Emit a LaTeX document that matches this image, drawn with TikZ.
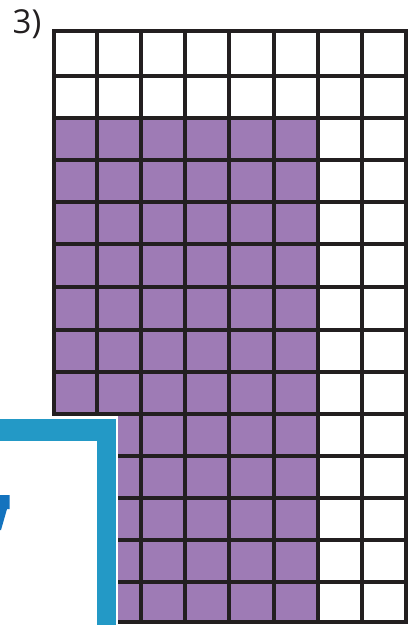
\documentclass[tikz,border=0pt]{standalone}
\usepackage{fontspec}
\setmainfont{Open Sans}
\definecolor{gridink}{HTML}{231F20}
\definecolor{purplefill}{HTML}{9E7BB5}
\definecolor{framecol}{HTML}{2399C6}
\definecolor{glyphcol}{HTML}{1473BE}
\tikzset{gridline/.style={draw=gridink,line width=3.2pt,line cap=rect}}
\begin{document}
\begin{tikzpicture}[x=1pt,y=-1pt]
\useasboundingbox (0,0) rectangle (408,625);
\fill[white] (0,0) rectangle (408,625);
% purple area
\fill[purplefill] (54,118) rectangle (318,622);
% grid
\foreach \xx in {54,97,141,185,229,274,318,362,406}
  \draw[gridline] (\xx,31) -- (\xx,622);
\foreach \yy in {31,76,118,160,202,244,287,330,372,414,456,498,540,582,622}
  \draw[gridline] (54,\yy) -- (406,\yy);
% label
\node[anchor=base west,inner sep=0pt,text=gridink,font=\fontsize{33}{33}\selectfont] (lbl) at (12.5,33) {3)};
% overlay frame
\fill[white] (-5,415.5) rectangle (118,630);
\fill[framecol] (-5,418.5) rectangle (115.5,630);
\fill[white] (-5,441) rectangle (97,630);
% glyph fragment
\fill[glyphcol] (-2,495) -- (9.5,495) -- (9.5,509) -- (7,509) -- (1,530) -- (-2,530) -- cycle;
\end{tikzpicture}
\end{document}
